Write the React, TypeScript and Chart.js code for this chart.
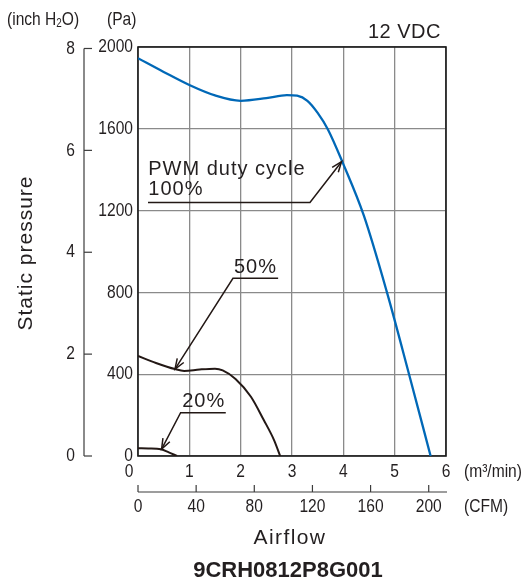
import React, { useEffect, useRef } from "react";
import { Chart, registerables } from "chart.js";
Chart.register(...registerables);

// ---- data (airflow in m³/min, static pressure in Pa) ----
const m3Ticks = [0, 1, 2, 3, 4, 5, 6];
const paTicks = [0, 400, 800, 1200, 1600, 2000];
const inchTicks = [0, 2, 4, 6, 8];
const cfmTicks = [0, 40, 80, 120, 160, 200];
const PA_PER_INCH = 249.09;
const CFM_PER_M3 = 35.3147;

const flow100 = [0, 0.5, 1, 1.5, 2, 2.5, 2.9, 3.1, 3.3, 3.5, 3.7, 4, 4.4, 4.85, 5.28, 5.7];
const pres100 = [1945, 1878, 1814, 1763, 1737, 1750, 1765, 1762, 1737, 1678, 1597, 1427, 1175, 800, 400, 0];
const flow50 = [0, 0.35, 0.72, 0.9, 1.2, 1.5, 1.65, 1.9, 2.2, 2.45, 2.65, 2.77];
const pres50 = [489, 455, 425, 416, 423, 427, 419, 377, 290, 176, 78, 0];
const flow20 = [0, 0.2, 0.45, 0.6, 0.76];
const pres20 = [38, 37, 33, 18, 0];

const annoLines = [["PWM duty cycle", "100%"], ["50%"], ["20%"]];
// anchor points in data units: tip on curve, elbow of leader, underline end, text origin
const annoTip = [[3.965, 1439], [0.72, 425], [0.46, 34]];
const annoElbow = [[3.35, 1240], [1.85, 869], [0.83, 212]];
const annoEnd = [[0.195, 1240], [2.73, 869], [1.71, 212]];
const annoText = [[0.2, 1374], [1.87, 895], [0.86, 241]];

const BLUE = "#0068b7";
const CURVE = "#231815";
const TEXT = "#231f20";
const GRID = "#8a8a8a";
const SANS = '"Liberation Sans", Arial, sans-serif';
const NUM_FONT = `19px ${SANS}`;
const SQUEEZE = 0.82;

function arrowHead(ctx: CanvasRenderingContext2D, x1: number, y1: number, x2: number, y2: number) {
  const a = Math.atan2(y2 - y1, x2 - x1);
  const len = 11;
  const sp = 0.36;
  ctx.beginPath();
  ctx.moveTo(x2 - len * Math.cos(a - sp), y2 - len * Math.sin(a - sp));
  ctx.lineTo(x2, y2);
  ctx.lineTo(x2 - len * Math.cos(a + sp), y2 - len * Math.sin(a + sp));
  ctx.stroke();
}

// condensed text (no narrow font installed): horizontal squeeze
function nText(ctx: CanvasRenderingContext2D, s: string, x: number, y: number, align: CanvasTextAlign, font = NUM_FONT) {
  ctx.save();
  ctx.translate(x, y);
  ctx.scale(SQUEEZE, 1);
  ctx.font = font;
  ctx.textAlign = align;
  ctx.textBaseline = "middle";
  ctx.fillText(s, 0, 0);
  ctx.restore();
}

const decor = {
  id: "decor",
  beforeDatasetsDraw(chart: any) {
    const { ctx, chartArea: a } = chart;
    ctx.save();
    ctx.strokeStyle = "#1a1a1a";
    ctx.lineWidth = 1.6;
    ctx.strokeRect(a.left, a.top, a.right - a.left, a.bottom - a.top);
    ctx.restore();
  },
  afterDraw(chart: any) {
    const ctx: CanvasRenderingContext2D = chart.ctx;
    const xs = chart.scales.x;
    const ys = chart.scales.y;
    const px = (v: number) => xs.getPixelForValue(v);
    const py = (v: number) => ys.getPixelForValue(v);
    ctx.save();
    ctx.fillStyle = TEXT;
    ctx.strokeStyle = TEXT;

    // m3/min tick labels
    for (const v of m3Ticks) nText(ctx, String(v), v === 0 ? px(v) - 9 : px(v), 472, "center");
    // Pa tick labels
    for (const v of paTicks) nText(ctx, String(v), 133, py(v), "right");

    // inch H2O axis
    const axX = 84;
    ctx.strokeStyle = "#3c3c3c";
    ctx.lineWidth = 1.2;
    ctx.beginPath();
    ctx.moveTo(axX, py(inchTicks[inchTicks.length - 1] * PA_PER_INCH));
    ctx.lineTo(axX, py(0));
    ctx.stroke();
    for (const t of inchTicks) {
      const y = py(t * PA_PER_INCH);
      ctx.beginPath();
      ctx.moveTo(axX, y);
      ctx.lineTo(axX + 8, y);
      ctx.stroke();
      nText(ctx, String(t), 75, y, "right");
    }

    // CFM axis
    const cy = 492;
    ctx.beginPath();
    ctx.moveTo(px(0), cy);
    ctx.lineTo(px(6) + 1, cy);
    ctx.stroke();
    for (const c of cfmTicks) {
      const x = px(c / CFM_PER_M3);
      ctx.beginPath();
      ctx.moveTo(x, cy);
      ctx.lineTo(x, cy - 7);
      ctx.stroke();
      nText(ctx, String(c), x, 507, "center");
    }

    // unit labels
    nText(ctx, "(m³/min)", 464, 472, "left");
    nText(ctx, "(CFM)", 464, 507, "left");
    nText(ctx, "(Pa)", 107, 20, "left");
    ctx.font = NUM_FONT;
    let x0 = 7;
    nText(ctx, "(inch H", x0, 20, "left");
    x0 += ctx.measureText("(inch H").width * SQUEEZE;
    nText(ctx, "2", x0, 24, "left", `12px ${SANS}`);
    ctx.font = `12px ${SANS}`;
    x0 += ctx.measureText("2").width * SQUEEZE;
    nText(ctx, "O)", x0, 20, "left");

    // titles
    ctx.font = `20px ${SANS}`;
    (ctx as any).letterSpacing = "0.5px";
    ctx.textAlign = "right";
    ctx.textBaseline = "alphabetic";
    ctx.fillText("12 VDC", 441, 38);

    ctx.textAlign = "center";
    ctx.font = `21px ${SANS}`;
    (ctx as any).letterSpacing = "1.4px";
    ctx.fillText("Airflow", 290, 544);

    ctx.save();
    ctx.translate(32, 253);
    ctx.rotate(-Math.PI / 2);
    (ctx as any).letterSpacing = "1px";
    ctx.font = `21px ${SANS}`;
    ctx.fillText("Static pressure", 0, 0);
    ctx.restore();

    (ctx as any).letterSpacing = "0px";
    ctx.font = `bold 22px ${SANS}`;
    ctx.fillText("9CRH0812P8G001", 288, 577);

    // annotations
    ctx.font = `20px ${SANS}`;
    (ctx as any).letterSpacing = "1px";
    ctx.textAlign = "left";
    ctx.strokeStyle = CURVE;
    ctx.lineWidth = 1.5;
    for (let i = 0; i < annoLines.length; i++) {
      const tx = px(annoText[i][0]);
      const ty = py(annoText[i][1]);
      annoLines[i].forEach((s, k) => ctx.fillText(s, tx, ty + k * 20));
      const ex = px(annoEnd[i][0]), ey = py(annoEnd[i][1]);
      const bx = px(annoElbow[i][0]), by = py(annoElbow[i][1]);
      const tx2 = px(annoTip[i][0]), ty2 = py(annoTip[i][1]);
      ctx.beginPath();
      ctx.moveTo(ex, ey);
      ctx.lineTo(bx, by);
      ctx.lineTo(tx2, ty2);
      ctx.stroke();
      arrowHead(ctx, bx, by, tx2, ty2);
    }
    ctx.restore();
  },
};

const App = () => {
  const ref = useRef<HTMLCanvasElement>(null);
  useEffect(() => {
    document.body.style.margin = "0";
    const canvas = ref.current!;
    const mk = (xs: number[], ys: number[]) => xs.map((x, i) => ({ x, y: ys[i] }));
    const chart = new Chart(canvas, {
      type: "line",
      data: {
        datasets: [
          { label: "100%", data: mk(flow100, pres100), borderColor: BLUE, borderWidth: 2.3, pointRadius: 0, cubicInterpolationMode: "monotone", fill: false },
          { label: "50%", data: mk(flow50, pres50), borderColor: CURVE, borderWidth: 2, pointRadius: 0, cubicInterpolationMode: "monotone", fill: false },
          { label: "20%", data: mk(flow20, pres20), borderColor: CURVE, borderWidth: 2, pointRadius: 0, cubicInterpolationMode: "monotone", fill: false },
        ],
      } as any,
      options: {
        responsive: false,
        animation: false,
        devicePixelRatio: 1,
        layout: { padding: { top: 47, right: 82, left: 0, bottom: 0 } },
        plugins: { legend: { display: false }, tooltip: { enabled: false } },
        scales: {
          x: {
            type: "linear",
            min: m3Ticks[0],
            max: m3Ticks[m3Ticks.length - 1],
            afterFit: (s: any) => { s.height = 127; },
            afterBuildTicks: (s: any) => { s.ticks = m3Ticks.map((v) => ({ value: v })); },
            ticks: { display: false, autoSkip: false },
            grid: { color: GRID, lineWidth: 1.3, drawTicks: false },
            border: { display: false },
          },
          y: {
            type: "linear",
            min: paTicks[0],
            max: paTicks[paTicks.length - 1],
            afterFit: (s: any) => { s.width = 138; },
            afterBuildTicks: (s: any) => { s.ticks = paTicks.map((v) => ({ value: v })); },
            ticks: { display: false, autoSkip: false },
            grid: { color: GRID, lineWidth: 1.3, drawTicks: false },
            border: { display: false },
          },
        },
      } as any,
      plugins: [decor],
    });
    return () => chart.destroy();
  }, []);
  return <canvas ref={ref} width={528} height={583} style={{ display: "block" }} />;
};

export default App;
